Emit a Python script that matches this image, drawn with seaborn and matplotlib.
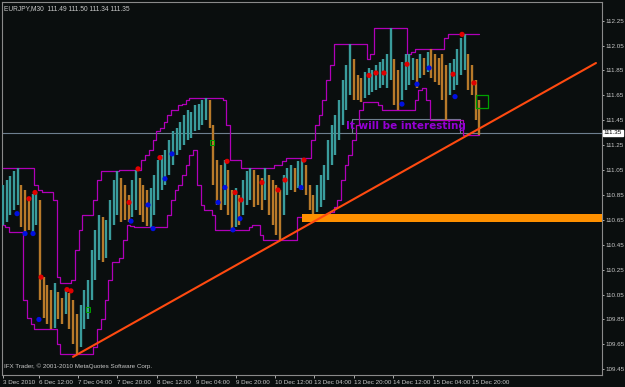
import numpy as np
import pandas as pd
import seaborn as sns
import matplotlib.pyplot as plt

# EURJPY M30, one point = 3 bars (90 min)
bar_hi = [110.93, 110.97, 111.00, 111.04, 111.07, 110.93, 110.89, 110.83, 110.86, 110.87,
          110.81, 110.19, 110.13, 110.09, 110.14, 110.07, 110.02, 110.09, 110.06, 110.01,
          109.89, 109.97, 110.09, 110.17, 110.41, 110.57, 110.69, 110.67, 110.65, 110.81,
          110.97, 111.04, 110.99, 110.93, 110.85, 110.97, 111.05, 110.99, 110.93, 110.89,
          110.91, 111.01, 111.13, 111.17, 111.21, 111.29, 111.36, 111.39, 111.44, 111.49,
          111.53, 111.52, 111.57, 111.58, 111.61, 111.63, 111.61, 111.41, 111.13, 111.09,
          111.13, 111.05, 110.89, 110.91, 110.85, 110.97, 111.04, 111.07, 111.05, 111.01,
          110.99, 111.07, 111.01, 110.97, 110.93, 110.89, 111.01, 111.07, 111.09, 111.07,
          111.12, 111.15, 111.09, 110.93, 110.85, 110.93, 111.01, 111.09, 111.29, 111.41,
          111.49, 111.61, 111.77, 111.89, 112.06, 111.94, 111.81, 111.79, 111.84, 111.87,
          111.85, 111.89, 111.92, 111.94, 111.98, 112.19, 111.94, 111.85, 111.92, 111.98,
          111.98, 111.95, 111.94, 111.98, 111.95, 112.00, 112.02, 111.98, 111.95, 111.98,
          111.89, 111.91, 111.94, 112.02, 112.11, 112.14, 111.98, 111.89, 111.77, 111.61]
bar_lo = [110.61, 110.63, 110.69, 110.73, 110.77, 110.59, 110.55, 110.57, 110.55, 110.61,
          110.01, 109.86, 109.81, 109.77, 109.78, 109.85, 109.81, 109.89, 109.77, 109.65,
          109.57, 109.63, 109.77, 109.85, 110.01, 110.17, 110.33, 110.31, 110.34, 110.49,
          110.61, 110.69, 110.63, 110.65, 110.63, 110.67, 110.73, 110.69, 110.63, 110.60,
          110.59, 110.69, 110.81, 110.89, 110.93, 111.01, 111.09, 111.17, 111.21, 111.25,
          111.29, 111.31, 111.36, 111.37, 111.41, 111.45, 111.39, 110.93, 110.77, 110.73,
          110.77, 110.69, 110.57, 110.59, 110.61, 110.69, 110.77, 110.81, 110.75, 110.77,
          110.73, 110.81, 110.69, 110.61, 110.53, 110.49, 110.69, 110.85, 110.89, 110.87,
          110.91, 110.89, 110.85, 110.73, 110.67, 110.71, 110.75, 110.81, 110.97, 111.09,
          111.17, 111.29, 111.41, 111.53, 111.65, 111.61, 111.61, 111.60, 111.63, 111.65,
          111.68, 111.69, 111.71, 111.73, 111.71, 111.77, 111.57, 111.53, 111.61, 111.69,
          111.73, 111.77, 111.71, 111.79, 111.81, 111.84, 111.79, 111.76, 111.73, 111.61,
          111.45, 111.65, 111.69, 111.73, 111.81, 111.85, 111.69, 111.65, 111.45, 111.33]

# fractal dots (bar index, price)
red_x = [21.1, 26.0, 30.9, 52.0, 55.2, 102.4, 109.7, 127.5, 182.0, 188.5, 193.3,
         210.4, 223.4, 229.1, 244.5, 297.3, 303.0, 309.5, 328.2, 365.6, 372.9, 382.6]
red_y = [110.82, 110.87, 110.19, 110.09, 110.08, 110.79, 111.06, 111.15, 111.12, 110.87, 110.81,
         110.95, 110.89, 110.97, 111.13, 111.81, 111.83, 111.83, 111.90, 111.82, 112.14, 111.75]
blue_x = [11.4, 17.9, 24.4, 29.2, 104.0, 117.8, 121.9, 131.6, 137.3, 174.7, 180.3,
          186.8, 192.5, 242.1, 324.1, 336.3, 346.1, 367.2]
blue_y = [110.70, 110.54, 110.54, 109.85, 110.64, 110.77, 110.58, 110.98, 111.18, 110.79, 110.91,
          110.57, 110.66, 110.91, 111.58, 111.74, 111.87, 111.64]

trend_x = [56.9, 481.7]
trend_y = [109.55, 111.91]
zone_x = [242.9, 487.0]
zone_lo, zone_hi = 110.635, 110.695
bid = 111.35
note_box = [283.5, 371.2, 111.35, 111.46]

tick_bars = [0] + [29 + 32 * k for k in range(12)]
tick_text = ["3 Dec 2010", "6 Dec 12:00", "7 Dec 04:00", "7 Dec 20:00", "8 Dec 12:00",
             "9 Dec 04:00", "9 Dec 20:00", "10 Dec 12:00", "13 Dec 04:00", "13 Dec 20:00",
             "14 Dec 12:00", "15 Dec 04:00", "15 Dec 20:00"]

STEP = 3
df = pd.DataFrame({"hi": bar_hi, "lo": bar_lo})
df["bar"] = np.arange(len(df)) * STEP
mid = (df.hi + df.lo) / 2
df["up"] = mid.diff().fillna(0) >= 0
df["env_hi"] = df.hi.rolling(9, center=True, min_periods=1).max()
df["env_lo"] = df.lo.rolling(9, center=True, min_periods=1).min()

sns.set_style("dark")
plt.rcParams["font.family"] = ["Liberation Sans", "DejaVu Sans"]
BG = "#0a0e0e"
FG = "#c8c8c8"
FS = 4.5

fig = plt.figure(figsize=(6.25, 3.87), dpi=100, facecolor=BG)
ax = fig.add_axes([2 / 625, 12 / 387, 600 / 625, 373 / 387], facecolor=BG)

# bars
for up, col in [(True, "#3a9c9c"), (False, "#b87a2a")]:
    d = df[df.up == up]
    ax.vlines(d.bar, d.lo, d.hi, color=col, lw=1.7, zorder=3)

# channel
sns.lineplot(x=df.bar, y=df.env_hi, ax=ax, color="#b000b8", lw=0.9, drawstyle="steps-mid", zorder=2)
sns.lineplot(x=df.bar, y=df.env_lo, ax=ax, color="#b000b8", lw=0.9, drawstyle="steps-mid", zorder=2)

# fractals
sns.scatterplot(x=red_x, y=red_y, ax=ax, color="#e00000", s=14, edgecolor="none", zorder=5)
sns.scatterplot(x=blue_x, y=blue_y, ax=ax, color="#0010e0", s=14, edgecolor="none", zorder=5)

# objects
ax.axhline(bid, color="#6e7f8f", lw=0.8, zorder=1)
ax.fill_between(zone_x, zone_lo, zone_hi, color="#ff9000", lw=0, zorder=4)
ax.plot(trend_x, trend_y, color="#ff4a10", lw=1.5, zorder=6)
x0, x1, y0, y1 = note_box
ax.plot([x0, x0, x1, x1], [y0, y1, y1, y0], color="#6e7f8f", lw=0.8, zorder=1)
ax.text((x0 + x1) / 2, (y0 + y1) / 2, "It will be interesting", color="#9400d3",
        family="DejaVu Sans", fontsize=7.5, fontweight="bold", ha="center", va="center", zorder=7)
ax.scatter([389.1], [111.60], marker="s", s=80, facecolor="none", edgecolor="#00a000", lw=0.9, zorder=7)
ax.scatter([69, 169.8], [109.93, 111.27], marker="s", s=12, facecolor="none", edgecolor="#00a000", lw=0.7, zorder=7)

ax.set_xlim(-0.81, 486.6)
ax.set_ylim(109.404, 112.40)
ax.set_xlabel("")
ax.set_ylabel("")
ax.grid(False)

ax.yaxis.tick_right()
yt = np.round(np.arange(109.45, 112.26, 0.2), 2)
ax.set_yticks(yt)
ax.set_yticklabels([f"{v:.2f}" for v in yt], fontsize=FS, color=FG)
ax.tick_params(axis="y", length=1.5, width=0.6, color=FG, pad=1, right=True)
ax.set_xticks(tick_bars)
ax.set_xticklabels(tick_text, fontsize=FS, color=FG, ha="left")
ax.tick_params(axis="x", length=2, width=0.6, color=FG, pad=1.5, bottom=True)

for s in ax.spines.values():
    s.set_color("#8a8a8a")
    s.set_linewidth(0.8)

ax.text(1.003, bid, f"{bid:.2f}", transform=ax.get_yaxis_transform(), fontsize=FS,
        color="black", va="center", ha="left",
        bbox=dict(facecolor="white", edgecolor="white", pad=0.4))

fig.text(4 / 625, 1 - 5 / 387, "EURJPY,M30  111.49 111.50 111.34 111.35", fontsize=FS + 0.3,
         color=FG, ha="left", va="top")
fig.text(4 / 625, 1 - 366 / 387, "IFX Trader, \u00a9 2001-2010 MetaQuotes Software Corp.",
         fontsize=FS, color=FG, ha="left", va="center")

fig.savefig("out.png", dpi=100, facecolor=BG)
